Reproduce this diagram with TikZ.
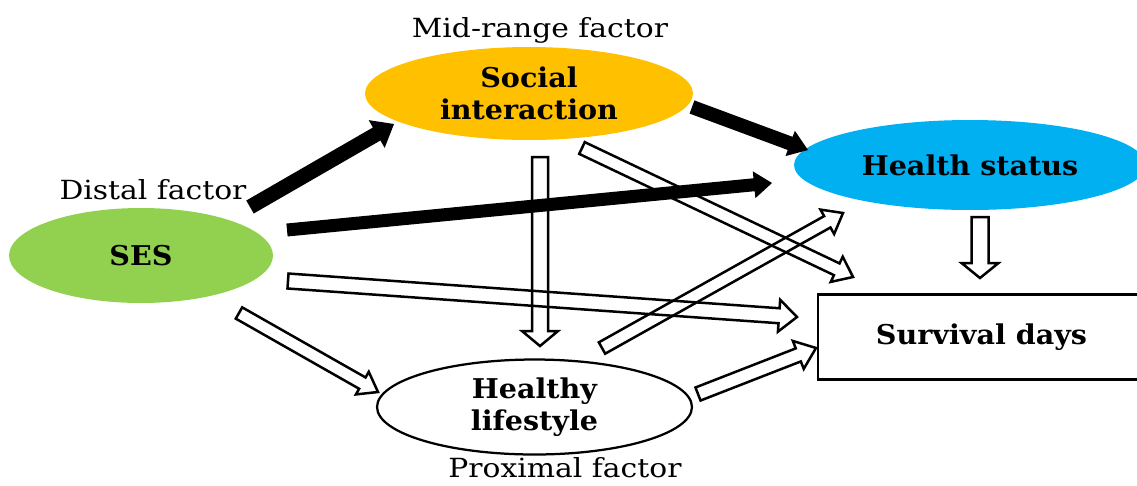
\documentclass[tikz,border=0pt]{standalone}
\usepackage{fontspec}
\setmainfont{DejaVu Serif}
\newfontfamily\lblfont{DejaVu Serif}[FakeStretch=1.13]
\newfontfamily\factorfont{DejaVu Serif}[FakeStretch=1.05]
\usetikzlibrary{calc,shapes.geometric}

\definecolor{socialorange}{HTML}{FFC000}
\definecolor{healthblue}{HTML}{00B0F0}
\definecolor{sesgreen}{HTML}{92D050}

% block arrow: [style]{from}{to}{shaft half width}{head half width}{head length}
\newcommand\blockarrow[6][hollowarrow]{%
  \coordinate (bab) at ($(#3)!#6!(#2)$);
  \path[#1] ($(#2)!#4!90:(#3)$) -- ($(bab)!#4!90:(#3)$) -- ($(bab)!#5!90:(#3)$)
    -- (#3) -- ($(bab)!#5!-90:(#3)$) -- ($(bab)!#4!-90:(#3)$)
    -- ($(#2)!#4!-90:(#3)$) -- cycle;}

\tikzset{
  factor/.style={ellipse, inner sep=0pt, align=center,
    font=\factorfont\bfseries\fontsize{15.5}{18.2}\selectfont},
  lbl/.style={inner sep=0pt, font=\lblfont\fontsize{15}{17}\selectfont},
  hollowarrow/.style={draw=black, line width=0.05cm, line join=miter},
  solidarrow/.style={fill=black},
}

\begin{document}
\begin{tikzpicture}[x=0.02cm,y=-0.02cm]
\useasboundingbox (0,0) rectangle (1137,485);
\clip (0,0) rectangle (1137,485);

% factors
\node[factor, fill=socialorange, minimum width=6.56cm, minimum height=1.86cm] (soc) at (529,93.5) {Social\\interaction};
\node[factor, fill=healthblue, minimum width=7.04cm, minimum height=1.8cm] (hs) at (970,165) {Health status};
\node[factor, fill=sesgreen, minimum width=5.28cm, minimum height=1.9cm] (ses) at (141,255.5) {SES};
\node[factor, draw=black, line width=0.045cm, minimum width=6.3cm, minimum height=1.9cm] (hl) at (534.5,407) {Healthy\\lifestyle};
\node[rectangle, draw=black, line width=0.055cm, minimum width=6.54cm, minimum height=1.7cm,
  font=\factorfont\bfseries\fontsize{15.5}{18.2}\selectfont] (sd) at (981.5,337) {Survival days};

% level labels
\node[lbl, anchor=base] (midlbl) at (540,37) {Mid-range factor};
\node[lbl, anchor=base] (dislbl) at (153,199) {Distal factor};
\node[lbl, anchor=base] (prolbl) at (565,477) {Proximal factor};

% arrow end points
\coordinate (a1s) at (250,207);  \coordinate (a1e) at (394,124);
\coordinate (a2s) at (287,230);  \coordinate (a2e) at (772,183);
\coordinate (a3s) at (692,107);  \coordinate (a3e) at (808,150);
\coordinate (a4s) at (540,157);  \coordinate (a4e) at (540,346);
\coordinate (a5s) at (582,148);  \coordinate (a5e) at (853,277);
\coordinate (a6s) at (288,281);  \coordinate (a6e) at (797,317);
\coordinate (a7s) at (239,313);  \coordinate (a7e) at (378,392);
\coordinate (a8s) at (602,348);  \coordinate (a8e) at (843,213);
\coordinate (a9s) at (698,394);  \coordinate (a9e) at (816,348);
\coordinate (a10s) at (980,217); \coordinate (a10e) at (980,278);

% open paths
\blockarrow{a4s}{a4e}{0.16cm}{0.36cm}{0.30cm}
\blockarrow{a10s}{a10e}{0.17cm}{0.37cm}{0.30cm}
\blockarrow{a5s}{a5e}{0.13cm}{0.28cm}{0.36cm}
\blockarrow{a6s}{a6e}{0.15cm}{0.32cm}{0.36cm}
\blockarrow{a7s}{a7e}{0.13cm}{0.26cm}{0.36cm}
\blockarrow{a8s}{a8e}{0.13cm}{0.28cm}{0.36cm}
\blockarrow{a9s}{a9e}{0.14cm}{0.30cm}{0.38cm}

% strong paths
\blockarrow[solidarrow]{a1s}{a1e}{0.15cm}{0.32cm}{0.40cm}
\blockarrow[solidarrow]{a2s}{a2e}{0.13cm}{0.27cm}{0.36cm}
\blockarrow[solidarrow]{a3s}{a3e}{0.14cm}{0.27cm}{0.38cm}
\end{tikzpicture}
\end{document}
